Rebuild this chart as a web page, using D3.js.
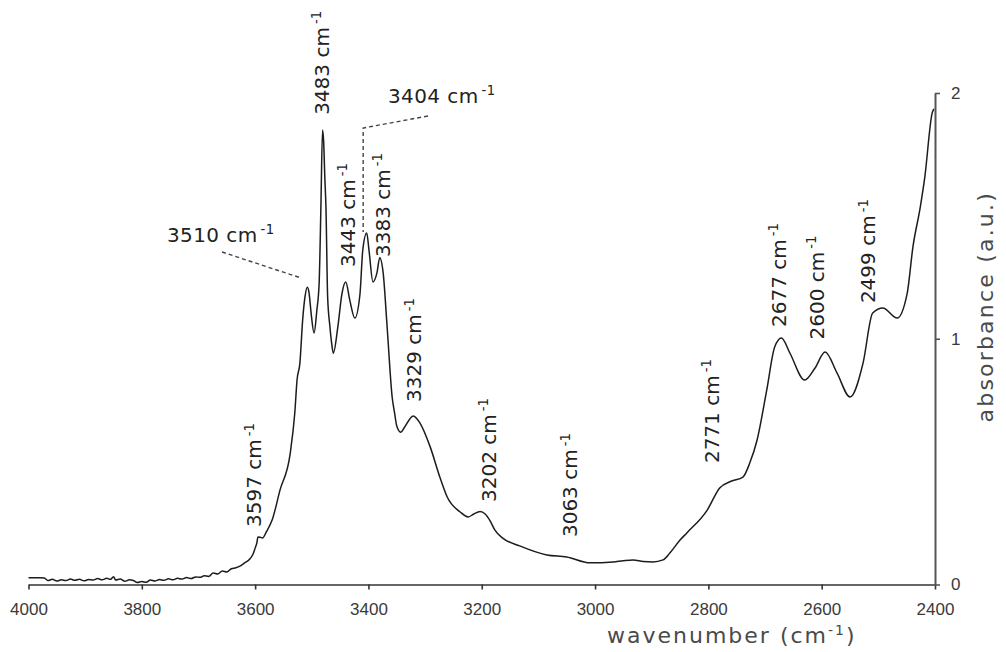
<!DOCTYPE html>
<html>
<head>
<meta charset="utf-8">
<script src="https://cdn.jsdelivr.net/npm/d3@7"></script>
<style>
  html, body { margin: 0; padding: 0; background: #fff; }
  svg { display: block; }
</style>
</head>
<body>
<svg id="chart" width="1006" height="652"></svg>
<script>
// IR absorbance spectrum, 4000–2400 cm-1

// wavenumber (cm-1), descending
const wavenumber = [
  4000, 3990, 3980, 3972, 3966, 3958, 3950, 3942, 3934, 3926, 3918, 3910, 3902, 3894, 3886,
  3878, 3870, 3862, 3855, 3850, 3846, 3838, 3830, 3822, 3815, 3808, 3800, 3792, 3785, 3777,
  3769, 3761, 3753, 3745, 3737, 3729, 3721, 3713, 3705, 3697, 3690, 3682, 3674, 3666, 3658,
  3650, 3642, 3634, 3626, 3618, 3611, 3604, 3600, 3597, 3595, 3591, 3587, 3580, 3570, 3556,
  3538, 3530, 3526, 3521, 3516, 3512, 3508, 3505, 3501, 3496, 3491, 3487, 3484, 3481, 3479,
  3477, 3475, 3472, 3468, 3465, 3462, 3454, 3447, 3440, 3433, 3424, 3415, 3410, 3403, 3399,
  3392, 3385, 3380, 3374, 3367, 3358, 3354, 3350, 3343, 3336, 3321, 3309, 3291, 3274, 3261,
  3238, 3224, 3214, 3203, 3194, 3185, 3177, 3163, 3133, 3085, 3050, 3009, 2968, 2950, 2933,
  2915, 2898, 2880, 2868, 2850, 2838, 2802, 2780, 2760, 2739, 2727, 2714, 2697, 2683, 2671,
  2656, 2630, 2612, 2594, 2573, 2550, 2527, 2510, 2492, 2467, 2449, 2439, 2426, 2418, 2405,
  2402
];

// absorbance (a.u.)
const absorbance = [
  0.027, 0.027, 0.027, 0.026, 0.016, 0.021, 0.014, 0.019, 0.016, 0.022, 0.017, 0.021, 0.015, 0.020, 0.018,
  0.024, 0.019, 0.025, 0.021, 0.032, 0.018, 0.022, 0.013, 0.019, 0.016, 0.008, 0.012, 0.009, 0.018, 0.014,
  0.020, 0.017, 0.023, 0.019, 0.025, 0.022, 0.028, 0.024, 0.031, 0.029, 0.036, 0.033, 0.047, 0.043, 0.055,
  0.051, 0.064, 0.068, 0.076, 0.089, 0.100, 0.122, 0.148, 0.169, 0.193, 0.192, 0.189, 0.215, 0.262, 0.385,
  0.535, 0.698, 0.832, 0.901, 1.080, 1.170, 1.210, 1.190, 1.100, 1.023, 1.117, 1.227, 1.524, 1.849, 1.800,
  1.658, 1.536, 1.170, 1.050, 0.983, 0.941, 1.048, 1.180, 1.231, 1.158, 1.084, 1.180, 1.361, 1.430, 1.360,
  1.231, 1.268, 1.330, 1.268, 1.048, 0.760, 0.700, 0.645, 0.620, 0.641, 0.686, 0.657, 0.560, 0.437, 0.356,
  0.295, 0.275, 0.287, 0.297, 0.287, 0.258, 0.222, 0.189, 0.157, 0.120, 0.112, 0.088, 0.092, 0.097, 0.100,
  0.094, 0.092, 0.100, 0.128, 0.181, 0.210, 0.303, 0.393, 0.420, 0.437, 0.494, 0.588, 0.791, 0.966, 1.003,
  0.941, 0.832, 0.880, 0.946, 0.861, 0.763, 0.901, 1.105, 1.125, 1.084, 1.186, 1.373, 1.536, 1.658, 1.918,
  1.935
];

const xTicks = [4000, 3800, 3600, 3400, 3200, 3000, 2800, 2600, 2400];
const yTicks = [0, 1, 2];

// band positions written next to the trace (cm-1)
const verticalLabels = [3597, 3483, 3443, 3383, 3329, 3202, 3063, 2771, 2677, 2600, 2499];
const leaderLabels = [3510, 3404];

const xTitle = "wavenumber (cm";
const yTitle = "absorbance (a.u.)";

// ---------------------------------------------------------------
const svg = d3.select("#chart");

const x = d3.scaleLinear().domain([4000, 2400]).range([28.5, 935]);
const y = d3.scaleLinear().domain([0, 2]).range([584.5, 93]);

const spectrum = wavenumber.map((w, i) => ({ w, a: absorbance[i] }));

// bottom axis
const gx = svg.append("g")
  .attr("transform", `translate(0,${y(0)})`)
  .call(d3.axisBottom(x).tickValues(xTicks).tickSize(5).tickSizeOuter(0).tickPadding(13)
    .tickFormat(d3.format("d")));
gx.select(".domain").attr("stroke", "#333").attr("stroke-width", 1.6);
gx.selectAll(".tick line").attr("stroke", "#333").attr("stroke-width", 1.6);
gx.selectAll(".tick text")
  .attr("font-family", "'Liberation Sans', Arial, sans-serif")
  .attr("font-size", 17)
  .attr("fill", "#3a3a3a");

// right axis
const gy = svg.append("g")
  .attr("transform", `translate(${x(2400)},0)`)
  .call(d3.axisRight(y).tickValues(yTicks).tickSize(5).tickSizeOuter(0).tickPadding(11)
    .tickFormat(d3.format("d")));
gy.select(".domain").attr("stroke", "#555").attr("stroke-width", 2);
gy.selectAll(".tick line").attr("stroke", "#555").attr("stroke-width", 1.6);
gy.selectAll(".tick text")
  .attr("font-family", "'Liberation Sans', Arial, sans-serif")
  .attr("font-size", 17)
  .attr("fill", "#3a3a3a");

// spectrum trace
const line = d3.line()
  .x(d => x(d.w))
  .y(d => y(d.a))
  .curve(d3.curveMonotoneX);

svg.append("path")
  .datum(spectrum)
  .attr("d", line)
  .attr("fill", "none")
  .attr("stroke", "#1c1c1c")
  .attr("stroke-width", 1.5)
  .attr("stroke-linejoin", "round");

// ---------------------------------------------------------------
// band annotations
const annoFont = "'DejaVu Sans', Verdana, sans-serif";

function addUnit(textSel, size) {
  textSel.append("tspan").text(" cm");
  textSel.append("tspan")
    .attr("dx", 3)
    .attr("dy", -0.38 * size)
    .attr("font-size", size * 0.66)
    .text("-1");
}

// label foot: horizontal offset from the band (px) and the absorbance level of the text start
const labelFoot = {
  3597: [4.5, 0.234],
  3483: [7.5, 1.911],
  3443: [10.5, 1.292],
  3383: [11.5, 1.333],
  3329: [12.8, 0.743],
  3202: [15, 0.336],
  3063: [18, 0.193],
  2771: [-6, 0.494],
  2677: [7.5, 1.048],
  2600: [2, 0.997],
  2499: [-3.5, 1.145]
};

verticalLabels.forEach(w => {
  const [dx, a] = labelFoot[w];
  const px = x(w) + dx, py = y(a);
  const t = svg.append("text")
    .attr("transform", `translate(${px},${py}) rotate(-90)`)
    .attr("font-family", annoFont)
    .attr("font-size", 20)
    .attr("fill", "#222")
    .text(w);
  addUnit(t, 20);
});

// horizontal labels joined to their band by dashed leaders
const leaderStyle = g => g.attr("fill", "none").attr("stroke", "#444")
  .attr("stroke-width", 1.4).attr("stroke-dasharray", "4,3");

// 3510
{
  const t = svg.append("text")
    .attr("x", 167).attr("y", 242)
    .attr("font-family", annoFont).attr("font-size", 20)
    .attr("letter-spacing", 0.4)
    .attr("fill", "#222")
    .text(leaderLabels[0]);
  addUnit(t, 20);
  svg.append("path")
    .attr("d", d3.line()([[222, 252], [x(leaderLabels[0]) - 5, 278]]))
    .call(leaderStyle);
}
// 3404
{
  const t = svg.append("text")
    .attr("x", 388).attr("y", 103)
    .attr("font-family", annoFont).attr("font-size", 20)
    .attr("letter-spacing", 0.4)
    .attr("fill", "#222")
    .text(leaderLabels[1]);
  addUnit(t, 20);
  const vx = x(leaderLabels[1]) - 3;
  svg.append("path")
    .attr("d", d3.line()([[428, 116], [vx, 128], [vx, y(1.43) - 1]]))
    .call(leaderStyle);
}

// ---------------------------------------------------------------
// axis titles
const titleFont = "'DejaVu Sans', Verdana, sans-serif";
{
  const t = svg.append("text")
    .attr("x", 607).attr("y", 643)
    .attr("font-family", titleFont).attr("font-size", 22)
    .attr("letter-spacing", 2)
    .attr("fill", "#4a4a4a")
    .text(xTitle);
  t.append("tspan").attr("dy", -8).attr("font-size", 14).text("-1");
  t.append("tspan").attr("dy", 8).text(")");
}
svg.append("text")
  .attr("transform", `translate(993,${y(1) - 32}) rotate(-90)`)
  .attr("text-anchor", "middle")
  .attr("font-family", titleFont).attr("font-size", 22)
  .attr("letter-spacing", 2.2)
  .attr("fill", "#4a4a4a")
  .text(yTitle);
</script>
</body>
</html>
